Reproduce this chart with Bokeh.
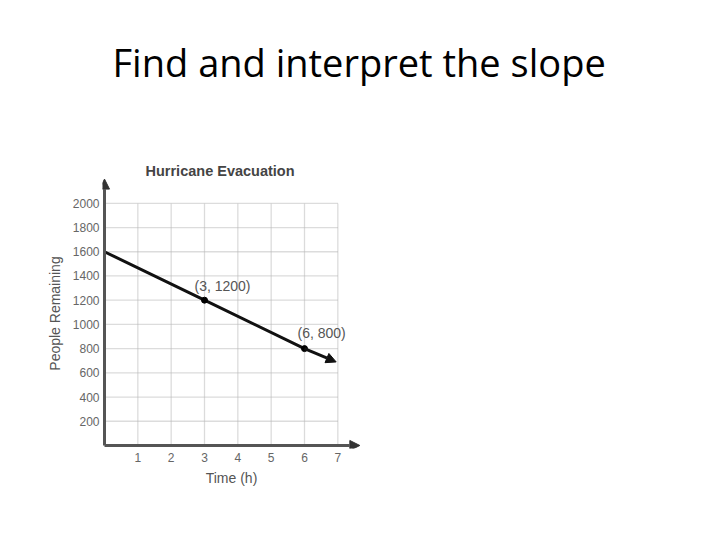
from bokeh.plotting import figure
from bokeh.models import (Range1d, Title, Arrow, NormalHead, FixedTicker,
                          ColumnDataSource)
from bokeh.embed import file_html
from bokeh.resources import INLINE
from bokeh.core.properties import value

# ---- data ----
page_title = "Find and interpret the slope"
chart_title = "Hurricane Evacuation"
x_label = "Time (h)"
y_label = "People Remaining"
x_ticks = [1, 2, 3, 4, 5, 6, 7]
y_ticks = [200, 400, 600, 800, 1000, 1200, 1400, 1600, 1800, 2000]
line_t = [0, 3, 6, 6.95]
line_p = [1600, 1200, 800, 690]
pt_t = [3, 6]
pt_p = [1200, 800]
pt_labels = ["(3, 1200)", "(6, 800)"]

XMAX = 7.68
YMAX = 2205
XMIN = -0.06
YMIN = -25

p = figure(width=704, height=524, output_backend="svg", toolbar_location=None,
           x_range=Range1d(XMIN, XMAX), y_range=Range1d(YMIN, YMAX),
           min_border_left=102, min_border_right=344, min_border_top=178,
           min_border_bottom=76)
p.outline_line_color = None
p.xgrid.visible = False
p.ygrid.visible = False

# page title (outermost)
p.title.text = page_title
p.title.text_font = "Open Sans"
p.title.text_font_size = "38px"
p.title.text_font_style = "normal"
p.title.text_color = "black"
p.title.align = "left"
p.title.offset = 10
p.title.standoff = 0

# chart title, nearest the frame
p.add_layout(Title(text=chart_title, text_font="Liberation Sans", text_font_size="14.5px",
                   text_font_style="bold", text_color="#444444", align="left",
                   offset=43, standoff=0), "above")
# empty spacer between the two titles
p.add_layout(Title(text=" ", text_font_size="1px", standoff=70), "above")

for ax, ticks in ((p.xaxis[0], x_ticks), (p.yaxis[0], y_ticks)):
    ax.ticker = FixedTicker(ticks=ticks)
    ax.axis_line_color = None
    ax.major_tick_line_color = None
    ax.minor_tick_line_color = None
    ax.major_tick_in = 0
    ax.major_tick_out = 0
    ax.minor_tick_out = 0
    ax.major_label_text_font = "Liberation Sans"
    ax.major_label_text_font_size = "12px"
    ax.major_label_text_color = "#666666"
    ax.axis_label_text_font = "Liberation Sans"
    ax.axis_label_text_font_size = "14px"
    ax.axis_label_text_font_style = "normal"
    ax.axis_label_text_color = "#555555"

p.xaxis.bounds = (0, x_ticks[-1])
p.yaxis.bounds = (0, y_ticks[-1])
p.xaxis.axis_label = x_label
p.yaxis.axis_label = y_label
p.xaxis.major_label_standoff = 4
p.yaxis.major_label_standoff = 3
p.xaxis.axis_label_standoff = 5
p.yaxis.axis_label_standoff = 7

# grid drawn only over the tick extent
p.segment(x0=x_ticks, y0=[0] * len(x_ticks), x1=x_ticks, y1=[y_ticks[-1]] * len(x_ticks),
          line_color="#b8b8b8", line_width=1.3, line_dash="1 1")
p.segment(x0=[0] * len(y_ticks), y0=y_ticks, x1=[x_ticks[-1]] * len(y_ticks), y1=y_ticks,
          line_color="#b8b8b8", line_width=1.3, line_dash="1 1")

# axes with arrows
p.add_layout(Arrow(x_start=0, y_start=0, x_end=XMAX - 0.02, y_end=0,
                   line_color="#555555", line_width=3,
                   end=NormalHead(size=10, fill_color="#333333", line_color="#333333")))
p.add_layout(Arrow(x_start=0, y_start=0, x_end=0, y_end=YMAX - 5,
                   line_color="#555555", line_width=3,
                   end=NormalHead(size=10, fill_color="#333333", line_color="#333333")))

# data line
p.line(line_t[:-1], line_p[:-1], line_color="#111111", line_width=3)
p.add_layout(Arrow(x_start=line_t[-2], y_start=line_p[-2], x_end=line_t[-1], y_end=line_p[-1],
                   line_color="#111111", line_width=3,
                   end=NormalHead(size=10, fill_color="#111111", line_color="#111111")))
p.scatter(pt_t, pt_p, size=6, color="black")

src = ColumnDataSource(dict(x=pt_t, y=pt_p, text=pt_labels, xo=[-10, -7], yo=[-14, -16]))
p.text(x="x", y="y", text="text", x_offset="xo", y_offset="yo", source=src,
       text_font=value("Liberation Sans"), text_font_size="14px", text_color="#555555",
       text_baseline="middle", text_align="left")

open("out.html", "w").write(file_html(p, INLINE))
